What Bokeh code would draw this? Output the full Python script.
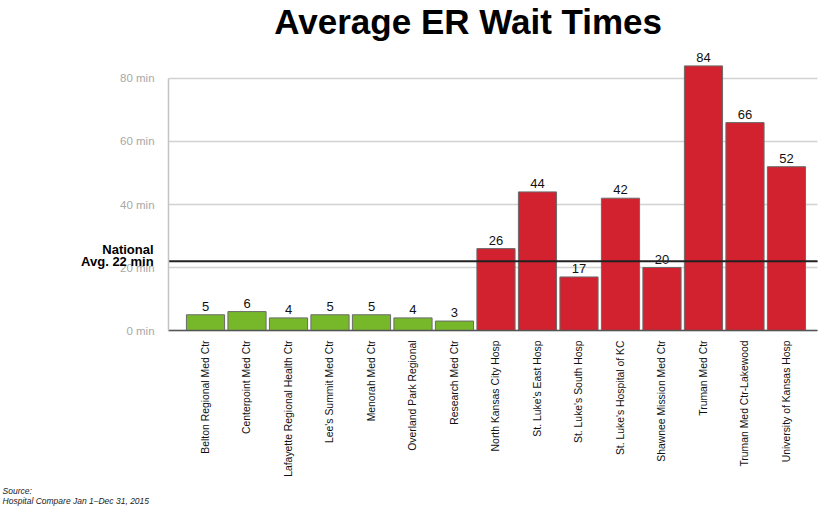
import math
from bokeh.plotting import figure
from bokeh.models import ColumnDataSource, Range1d, FixedTicker, Label
from bokeh.core.properties import value
from bokeh.embed import file_html
from bokeh.resources import INLINE

hospitals = [
    "Belton Regional Med Ctr", "Centerpoint Med Ctr", "Lafayette Regional Health Ctr",
    "Lee's Summit Med Ctr", "Menorah Med Ctr", "Overland Park Regional", "Research Med Ctr",
    "North Kansas City Hosp", "St. Luke's East Hosp", "St. Luke's South Hosp",
    "St. Luke's Hospital of KC", "Shawnee Mission Med Ctr", "Truman Med Ctr",
    "Truman Med Ctr-Lakewood", "University of Kansas Hosp",
]
wait_minutes = [5, 6, 4, 5, 5, 4, 3, 26, 44, 17, 42, 20, 84, 66, 52]
bar_groups = ["low"] * 7 + ["high"] * 8
group_colors = {"low": "#77b82a", "high": "#d3222f"}
national_avg = 22
national_label = ["National", "Avg. 22 min"]
y_ticks = [0, 20, 40, 60, 80]
y_tick_labels = ["0 min", "20 min", "40 min", "60 min", "80 min"]
chart_title = "Average ER Wait Times"
source_lines = ["Source:", "Hospital Compare Jan 1\u2013Dec 31, 2015"]

FONT = "Liberation Sans"

xs = list(range(len(hospitals)))
X_LEFT, X_RIGHT = -0.89, 14.75      # extent of the bar area (axis bounds)

src = ColumnDataSource(dict(
    x=xs,
    y=wait_minutes,
    label=[str(v) for v in wait_minutes],
    color=[group_colors[g] for g in bar_groups],
))

# one frame covering the whole canvas; axes are pinned with fixed_location
p = figure(width=822, height=506, output_backend="svg", toolbar_location=None,
           x_range=Range1d(-4.94, 14.82), y_range=Range1d(-55.87, 104.76),
           min_border_left=0, min_border_right=2, min_border_top=0,
           min_border_bottom=0)
p.outline_line_color = None
p.background_fill_color = "white"
p.border_fill_color = "white"

# grid
p.xgrid.visible = False
p.ygrid.cross_bounds = (X_LEFT, X_RIGHT)
p.ygrid.bounds = (0, 80)
p.ygrid.ticker = FixedTicker(ticks=y_ticks)
p.ygrid.grid_line_color = "#d2d2d2"
p.ygrid.grid_line_width = 1.5

p.vbar(x="x", top="y", width=0.92, source=src, fill_color="color",
       line_color="#6b6b6b", line_width=1)
p.text(x="x", y="y", text="label", source=src, text_align="center",
       text_baseline="bottom", y_offset=-4, text_font=value(FONT),
       text_font_size="13px", text_color="#111111")

# national average line
p.segment(x0=[X_LEFT], x1=[X_RIGHT], y0=[national_avg], y1=[national_avg],
          line_color="#222222", line_width=2)

ya = p.yaxis[0]
ya.fixed_location = X_LEFT
ya.ticker = FixedTicker(ticks=y_ticks)
ya.major_label_overrides = {t: l for t, l in zip(y_ticks, y_tick_labels)}
ya.bounds = (0, 80)
ya.axis_line_color = "#c4c4c4"
ya.axis_line_width = 1.5
ya.major_tick_line_color = None
ya.minor_tick_line_color = None
ya.major_tick_out = 0
ya.major_tick_in = 0
ya.major_label_text_color = "#a8a8a8"
ya.major_label_text_font = FONT
ya.major_label_text_font_size = "11.5px"
ya.major_label_standoff = 14

xa = p.xaxis[0]
xa.fixed_location = 0
xa.ticker = FixedTicker(ticks=xs)
xa.bounds = (X_LEFT, X_RIGHT)
xa.major_label_overrides = {i: h for i, h in zip(xs, hospitals)}
xa.major_label_orientation = math.pi / 2
xa.axis_line_color = "#555555"
xa.axis_line_width = 1.5
xa.major_tick_line_color = None
xa.minor_tick_line_color = None
xa.major_tick_out = 0
xa.major_tick_in = 0
xa.major_label_text_font = FONT
xa.major_label_text_font_size = "10.4px"
xa.major_label_text_color = "#111111"
xa.major_label_standoff = 10

# title
p.add_layout(Label(x=6.33, y=98.0, text=chart_title, text_align="center",
                   text_baseline="middle", text_font=FONT, text_font_size="35px",
                   text_font_style="bold", text_color="black"))

# national average annotation
for txt, dy in zip(national_label, [12, 0]):
    p.add_layout(Label(x=X_LEFT, y=national_avg, text=txt, x_offset=-15, y_offset=dy,
                       text_align="right", text_baseline="middle", text_font=FONT,
                       text_font_size="13px", text_font_style="bold", text_color="black"))

# source note
for txt, yy in zip(source_lines, [-50.8, -54.0]):
    p.add_layout(Label(x=-4.89, y=yy, text=txt, text_align="left", text_baseline="middle",
                       text_font=FONT, text_font_size="8.5px", text_font_style="italic",
                       text_color="#222222"))

open("out.html", "w").write(file_html(p, INLINE))
